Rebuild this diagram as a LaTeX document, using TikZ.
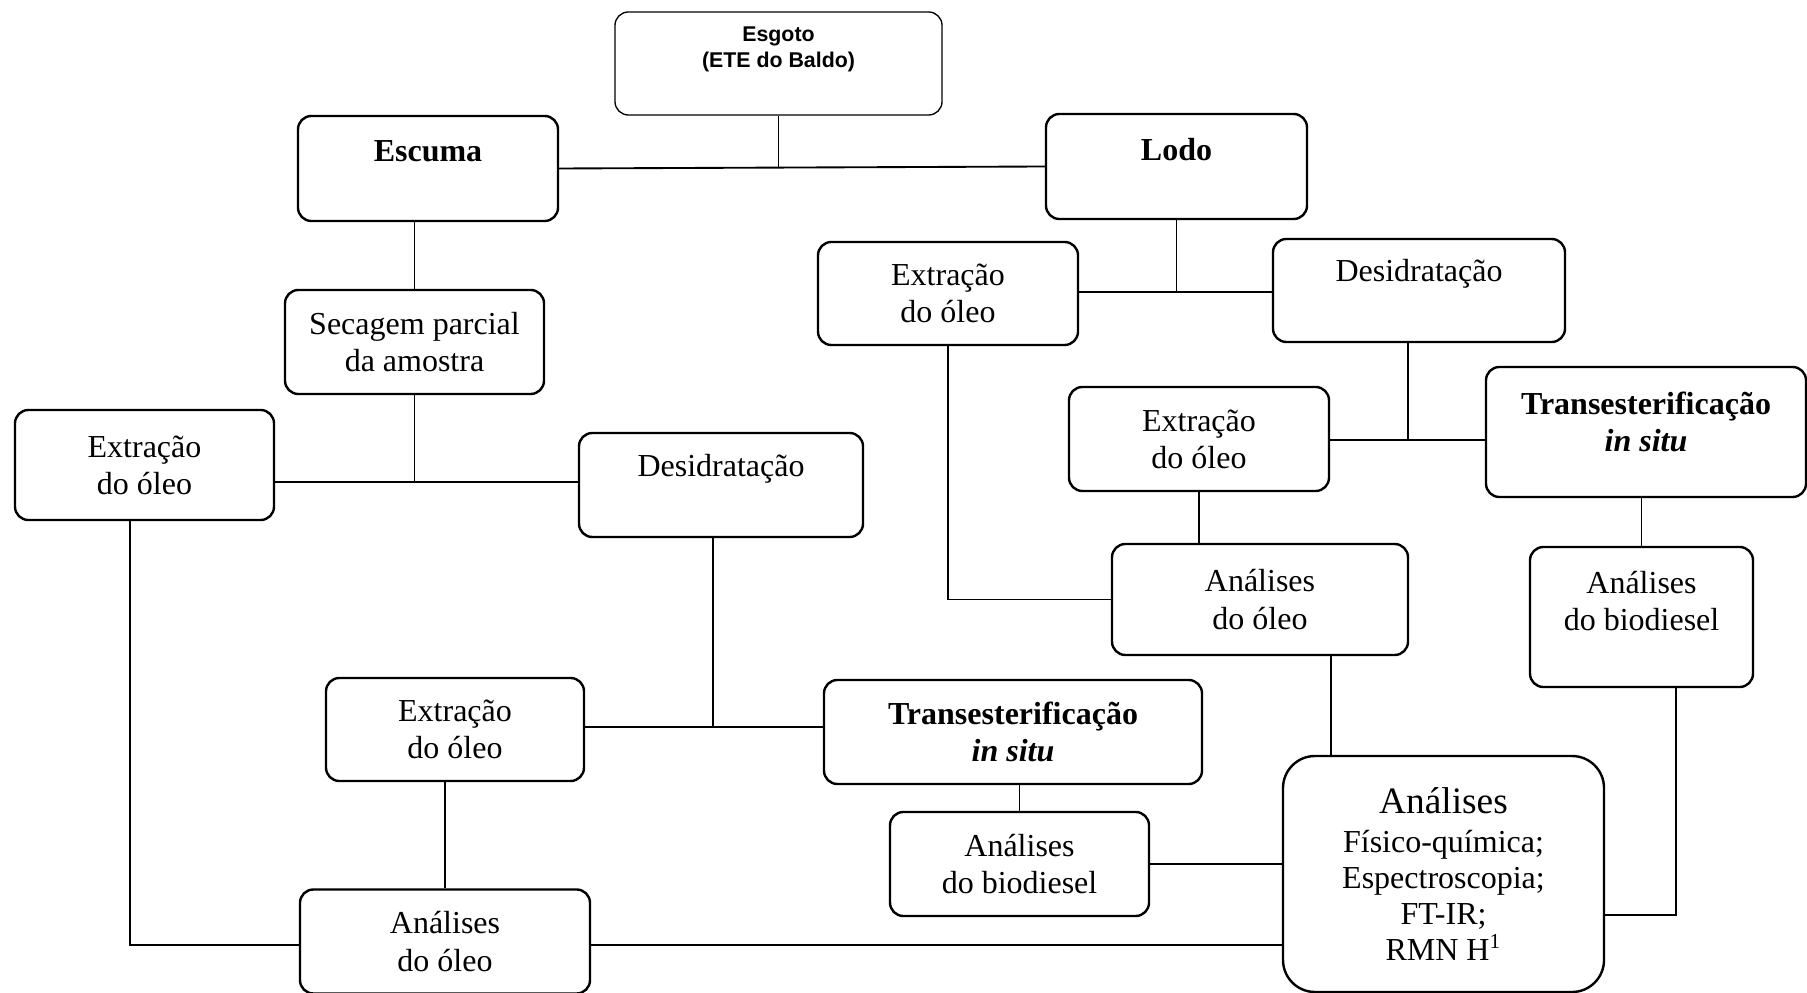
\documentclass[tikz,border=0pt]{standalone}
\usepackage{fontspec}
\setmainfont{Liberation Serif}
\newfontfamily\arialfont{Liberation Sans}
\newcommand{\px}{0.375pt}
\newcommand{\lift}[1]{\rule[-#1]{0pt}{#1}}
\tikzset{
  box/.style={draw, line width=0.9pt, rounded corners=5pt, align=center, inner sep=2pt, font=\fontsize{12}{13.9}\selectfont},
  wh/.style 2 args={minimum width=#1*\px, minimum height=#2*\px},
  link/.style={line width=0.7pt},
}
\begin{document}
\begin{tikzpicture}[x=\px, y=-\px]
\useasboundingbox (0,0) rectangle (1807,993);
\node[box, line width=0.5pt, wh={327}{103}, font=\arialfont\fontsize{8}{9.75}\selectfont\bfseries] (esgoto) at (778.5,63.5) {Esgoto\\(ETE do Baldo)\lift{12pt}};
\node[box, wh={260}{105}] (escuma) at (428,168.5) {\textbf{Escuma}\lift{13pt}};
\node[box, wh={261}{105}] (lodo) at (1176.5,166.5) {\textbf{Lodo}\lift{13pt}};
\node[box, wh={259}{104}] (secagem) at (414.5,342) {Secagem parcial\\da amostra};
\node[box, wh={259}{110}] (extL) at (144.5,465) {Extração\\do óleo};
\node[box, wh={284}{104}] (desL) at (721,485) {Desidratação\lift{15pt}};
\node[box, wh={258}{103}] (extLb) at (455,729.5) {Extração\\do óleo};
\node[box, wh={378}{104}] (transL) at (1013,732) {\textbf{Transesterificação}\\\textbf{\textit{in situ}}};
\node[box, wh={259}{104}] (bioL) at (1019.5,864) {Análises\\do biodiesel};
\node[box, wh={290}{104}] (oleoL) at (445,941.5) {Análises\\do óleo};
\node[box, rounded corners=12pt, wh={321}{236}, font=\fontsize{12}{13.5}\selectfont] (analises) at (1443.5,874) {{\fontsize{14}{16}\selectfont Análises}\\[1pt]Físico-química;\\Espectroscopia;\\FT-IR;\\RMN H\textsuperscript{1}};
\node[box, wh={260}{103}] (extR) at (948,293.5) {Extração\\do óleo};
\node[box, wh={292}{103}] (desR) at (1419,290.5) {Desidratação\lift{15pt}};
\node[box, wh={260}{104}] (extRb) at (1199,439) {Extração\\do óleo};
\node[box, wh={320}{130}] (transR) at (1646,432) {\textbf{Transesterificação}\\\textbf{\textit{in situ}}\lift{8pt}};
\node[box, wh={296}{111}] (oleoR) at (1260,599.5) {Análises\\do óleo};
\node[box, wh={223}{140}] (bioR) at (1641.5,617) {Análises\\do biodiesel\lift{12pt}};
\coordinate (jL) at (415,482);
\coordinate (jLb) at (713,727);
\coordinate (cL) at (130,945);
\coordinate (jR) at (1175,292);
\coordinate (jRb) at (1408,440);
\coordinate (cR) at (1331,700);
\coordinate (cB) at (1676,915);
\draw[link] (escuma.east) -- (lodo.west);
\draw[link] (esgoto.south) -- (esgoto.south |- escuma.east);
\draw[link] (secagem.north) -- (secagem.north |- escuma.south);
\draw[link] (secagem.south) -- (secagem.south |- jL);
\draw[link] (extL.east |- jL) -- (desL.west |- jL);
\draw[link] (jLb |- desL.south) -- (jLb);
\draw[link] (extLb.east |- jLb) -- (transL.west |- jLb);
\draw[link] (oleoL.north |- extLb.south) -- (oleoL.north);
\draw[link] (cL |- extL.south) -- (cL) -- (oleoL.west |- cL);
\draw[link] (oleoL.east |- cL) -- (analises.west |- cL);
\draw[link] (bioL.north |- transL.south) -- (bioL.north);
\draw[link] (bioL.east) -- (analises.west |- bioL.east);
\draw[link] (lodo.south) -- (lodo.south |- jR);
\draw[link] (extR.east |- jR) -- (desR.west |- jR);
\draw[link] (jRb |- desR.south) -- (jRb);
\draw[link] (extRb.east |- jRb) -- (transR.west |- jRb);
\draw[link] (extR.south) -- (extR.south |- oleoR.west) -- (oleoR.west);
\draw[link] (extRb.south) -- (extRb.south |- oleoR.north);
\draw[link] (cR |- oleoR.south) -- (cR |- analises.north);
\draw[link] (bioR.north |- transR.south) -- (bioR.north);
\draw[link] (cB |- bioR.south) -- (cB) -- (analises.east |- cB);
\end{tikzpicture}
\end{document}
